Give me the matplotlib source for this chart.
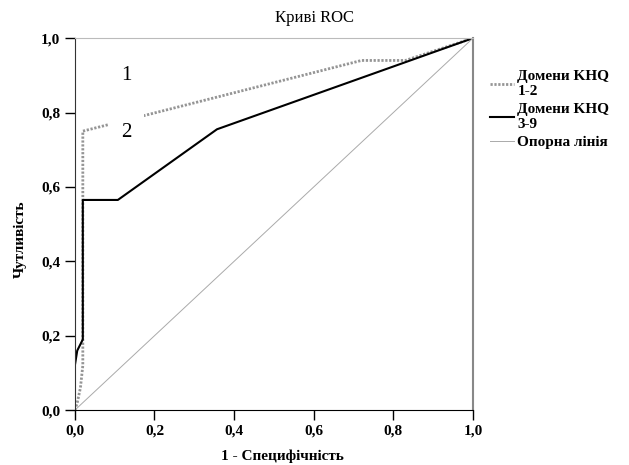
import numpy as np
from matplotlib import pyplot as plt

plt.rcParams['font.family'] = ['Liberation Serif', 'DejaVu Serif']

# ROC curve points
fpr_12 = [0.0, 0.006, 0.014, 0.02, 0.02, 0.72, 0.83, 1.0]
tpr_12 = [0.0, 0.02, 0.06, 0.12, 0.75, 0.94, 0.94, 1.0]
fpr_39 = [0.0, 0.0, 0.006, 0.02, 0.02, 0.108, 0.357, 1.0]
tpr_39 = [0.0, 0.12, 0.16, 0.19, 0.565, 0.565, 0.755, 1.0]
ref = [0.0, 1.0]
ticks = [0.0, 0.2, 0.4, 0.6, 0.8, 1.0]
tick_labels = ["0,0", "0,2", "0,4", "0,6", "0,8", "1,0"]

fig = plt.figure(figsize=(6.29, 4.65), dpi=100)
ax = fig.add_axes([0.119, 0.118, 0.633, 0.800])

ax.plot(fpr_12, tpr_12, color='#959595', linestyle=(0, (0.8, 0.6)), linewidth=2.0, label="Домени KHQ\n1-2")
ax.plot(fpr_39, tpr_39, color='black', linewidth=1.5, label="Домени KHQ\n3-9")
ax.plot(ref, ref, color='#aaaaaa', linewidth=0.7, label="Опорна лінія")

# white patch where the label "2" cuts the dotted line
ax.text(0.13, 0.745, "2", fontsize=15, ha='center', va='center',
        bbox=dict(facecolor='white', edgecolor='none', pad=9))
ax.text(0.13, 0.90, "1", fontsize=15, ha='center', va='center')

ax.set_xlim(0, 1)
ax.set_ylim(0, 1)
ax.set_xticks(ticks)
ax.set_xticklabels(tick_labels, fontweight='bold', fontsize=11)
ax.set_yticks(ticks)
ax.set_yticklabels(tick_labels, fontweight='bold', fontsize=11)
ax.tick_params(direction='out', length=7, width=1)

ax.spines['left'].set_color('#333333')
ax.spines['bottom'].set_color('black')
ax.spines['top'].set_color('#bbbbbb')
ax.spines['right'].set_color('#888888')
ax.spines['right'].set_linewidth(1.5)

fig.text(315 / 629, 1 - 18 / 465, "Криві ROC", fontsize=12, ha='center', va='center')
ax.set_xlabel("1 - Специфічність", fontsize=11, fontweight='bold')
ax.xaxis.set_label_coords(282 / 629 / 0.633 - 0.119 / 0.633, -0.105)
ax.set_ylabel("Чутливість", fontsize=11, fontweight='bold')
ax.yaxis.set_label_coords(-0.12, 0.46)

fig.legend(loc='upper left', bbox_to_anchor=(0.757, 0.878), frameon=False,
           handlelength=1.6, handletextpad=0.2, labelspacing=0.3,
           prop={'weight': 'bold', 'size': 11})

plt.savefig("out.png", dpi=100)
